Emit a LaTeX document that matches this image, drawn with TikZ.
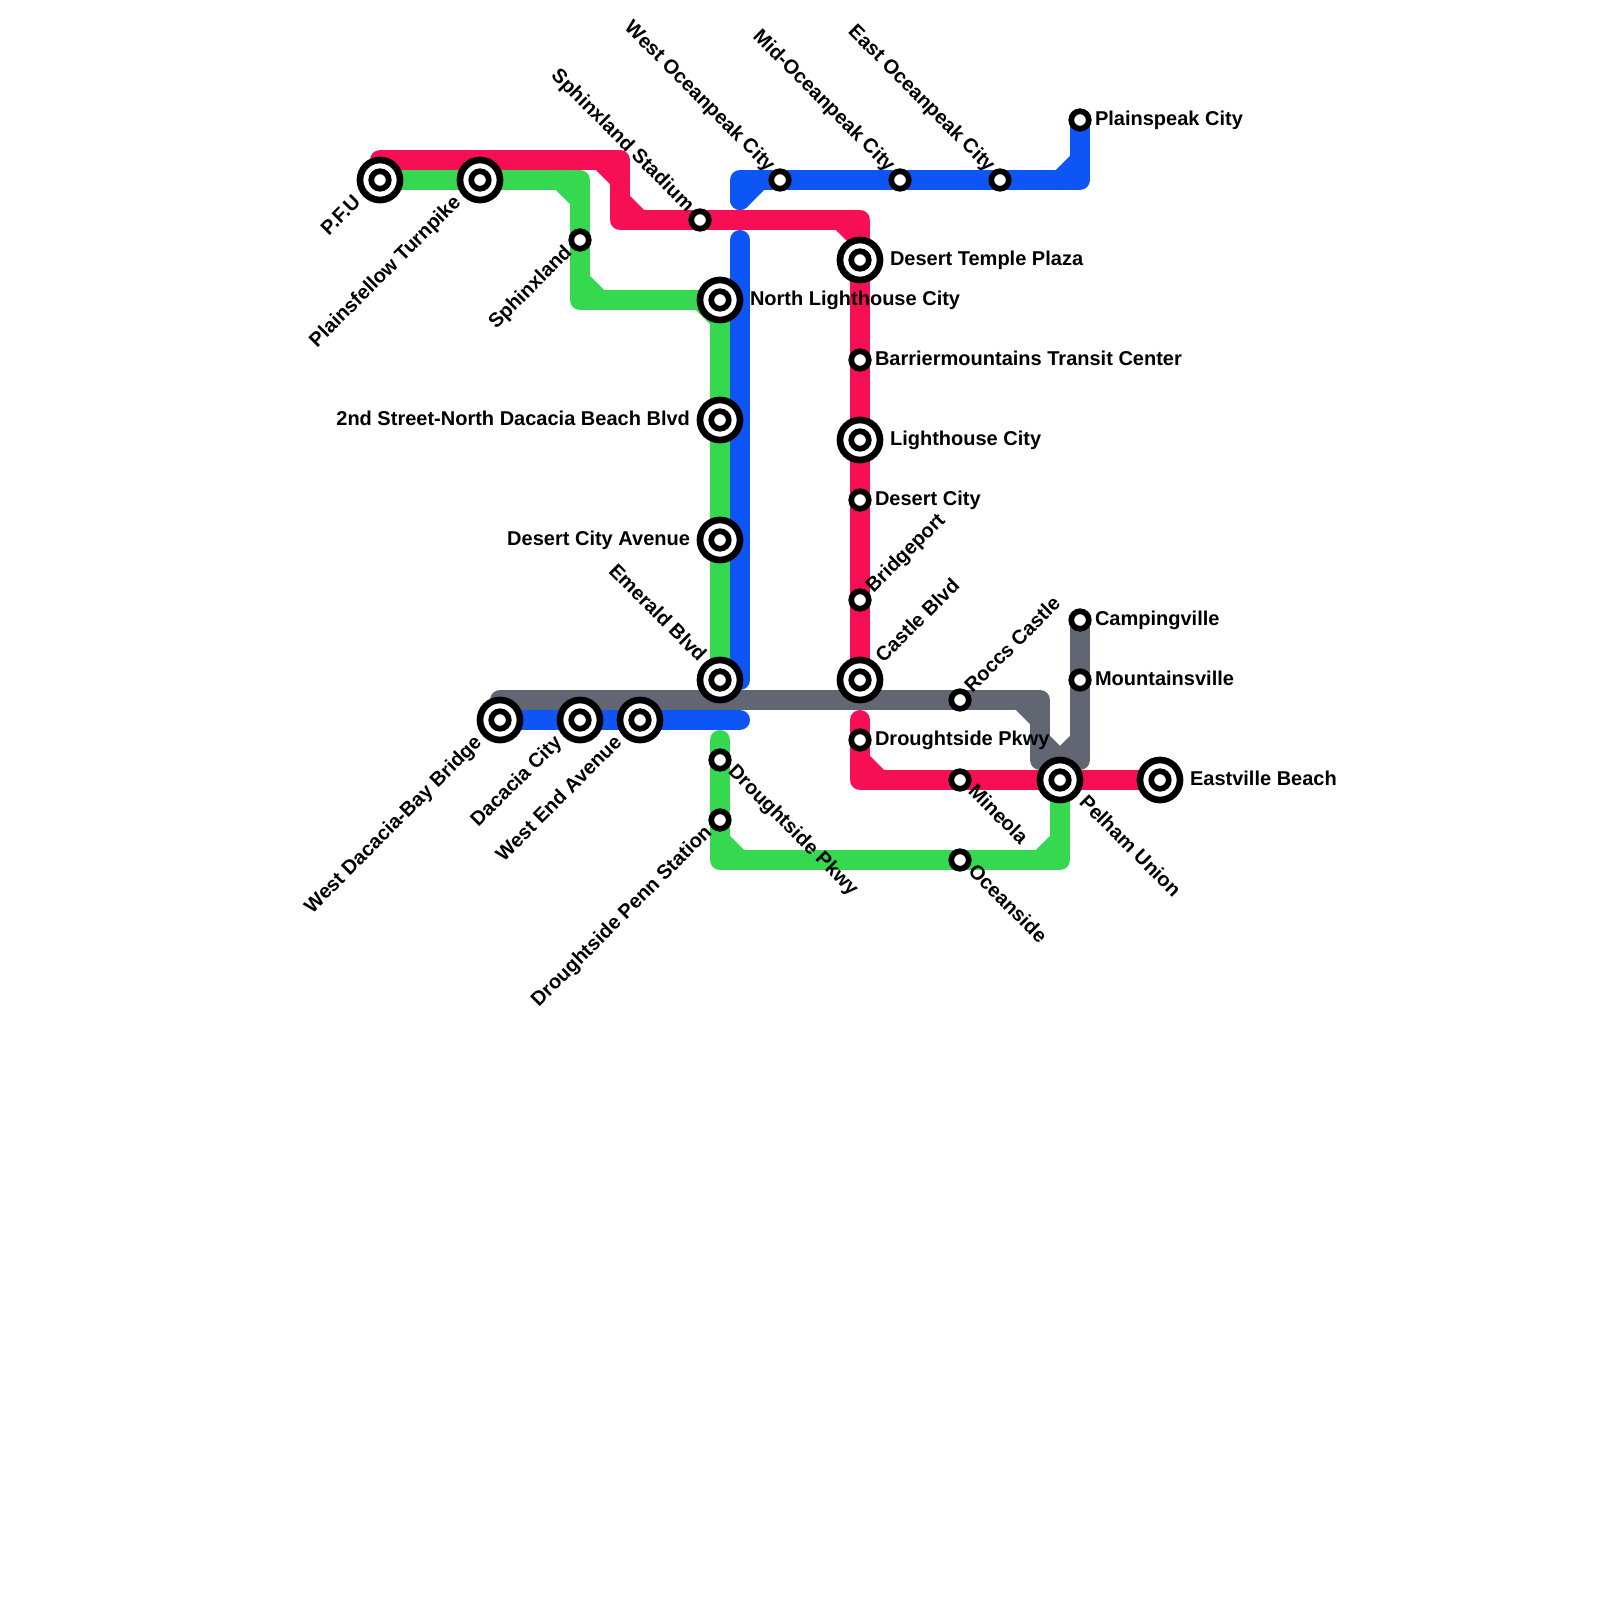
\documentclass[tikz,border=0pt]{standalone}
\usepackage{fontspec}
\setmainfont{Liberation Sans}
\usetikzlibrary{positioning,calc}
\definecolor{linered}{HTML}{F70F55}
\definecolor{linegreen}{HTML}{36D850}
\definecolor{lineblue}{HTML}{0E55F5}
\definecolor{linegrey}{HTML}{626673}

\begin{document}
\begin{tikzpicture}[x=0.01cm,y=-0.01cm,
  every node/.style={font=\bfseries\fontsize{5.69}{6.8}\selectfont,inner sep=0pt,outer sep=0pt,text height=0.145cm,text depth=0.042cm},
  tk/.style={line width=0.2cm,line cap=round,line join=round},
  stn/.style={circle,draw=black,fill=white,line width=0.057cm,minimum size=0.175cm,text height=0pt,text depth=0pt},
  xfer/.style={circle,draw=black,fill=white,line width=0.067cm,minimum size=0.4cm,text height=0pt,text depth=0pt,
    path picture={\draw[line width=0.057cm] (path picture bounding box.center) circle (0.0875cm);}},
  lur/.style={rotate=45,anchor=west},
  lll/.style={rotate=45,anchor=east},
  lul/.style={rotate=-45,anchor=east},
  llr/.style={rotate=-45,anchor=west}]

\useasboundingbox (0,0) rectangle (1600,1600);

\coordinate (rstart) at (380,160);
\coordinate (rb1) at (620,160);
\coordinate (rb2) at (620,220);
\coordinate (rb3) at (860,220);
\coordinate (rend) at (860,680);
\coordinate (r2start) at (860,720);
\coordinate (r2b) at (860,780);
\coordinate (r2end) at (1160,780);
\coordinate (gstart) at (380,180);
\coordinate (gb1) at (580,180);
\coordinate (gb2) at (580,300);
\coordinate (gb3) at (720,300);
\coordinate (gend) at (720,680);
\coordinate (g2start) at (720,740);
\coordinate (g2b1) at (720,860);
\coordinate (g2b2) at (1060,860);
\coordinate (g2end) at (1060,780);
\coordinate (bstart) at (1080,120);
\coordinate (bb1) at (1080,180);
\coordinate (bb2) at (740,180);
\coordinate (bend1) at (740,200);
\coordinate (b2start) at (740,240);
\coordinate (b2b) at (740,680);
\coordinate (b2end) at (720,680);
\coordinate (b3start) at (500,720);
\coordinate (b3end) at (740,720);
\coordinate (ystart) at (500,700);
\coordinate (yb1) at (1040,700);
\coordinate (yb2) at (1040,760);
\coordinate (yb3) at (1080,760);
\coordinate (yend) at (1080,620);

\draw[tk,linered] (rstart) -- (rb1) -- (rb2) -- (rb3) -- (rend);
\draw[tk,linered] ([shift={(-20,0)}]rb1) -- ([shift={(0,20)}]rb1);
\draw[tk,linered] ([shift={(0,-20)}]rb2) -- ([shift={(20,0)}]rb2);
\draw[tk,linered] ([shift={(-20,0)}]rb3) -- ([shift={(0,20)}]rb3);
\draw[tk,linered] (r2start) -- (r2b) -- (r2end);
\draw[tk,linered] ([shift={(0,-20)}]r2b) -- ([shift={(20,0)}]r2b);

\draw[tk,linegreen] (gstart) -- (gb1) -- (gb2) -- (gb3) -- (gend);
\draw[tk,linegreen] ([shift={(-20,0)}]gb1) -- ([shift={(0,20)}]gb1);
\draw[tk,linegreen] ([shift={(0,-20)}]gb2) -- ([shift={(20,0)}]gb2);
\draw[tk,linegreen] ([shift={(-20,0)}]gb3) -- ([shift={(0,20)}]gb3);
\draw[tk,linegreen] (g2start) -- (g2b1) -- (g2b2) -- (g2end);
\draw[tk,linegreen] ([shift={(0,-20)}]g2b1) -- ([shift={(20,0)}]g2b1);
\draw[tk,linegreen] ([shift={(-20,0)}]g2b2) -- ([shift={(0,-20)}]g2b2);

\draw[tk,lineblue] (bstart) -- (bb1) -- (bb2) -- (bend1);
\draw[tk,lineblue] ([shift={(-20,0)}]bb1) -- ([shift={(0,-20)}]bb1);
\draw[tk,lineblue] ([shift={(20,0)}]bb2) -- ([shift={(0,20)}]bb2);
\draw[tk,lineblue] (b2start) -- (b2b) -- (b2end);
\draw[tk,lineblue] (b3start) -- (b3end);

\draw[tk,linegrey] (ystart) -- (yb1) -- (yb2) -- (yb3) -- (yend);
\draw[tk,linegrey] ([shift={(-20,0)}]yb1) -- ([shift={(0,20)}]yb1);
\draw[tk,linegrey] ([shift={(0,-20)}]yb2) -- ([shift={(20,0)}]yb2);
\draw[tk,linegrey] ([shift={(-20,0)}]yb3) -- ([shift={(0,-20)}]yb3);

\node[xfer] (pfu) at (380,180) {};
\node[xfer] (turnpike) at (480,180) {};
\node[stn] (sphinx) at (580,240) {};
\node[stn] (stadium) at (700,220) {};
\node[stn] (westpeak) at (780,180) {};
\node[stn] (midpeak) at (900,180) {};
\node[stn] (eastpeak) at (1000,180) {};
\node[stn] (plainspeak) at (1080,120) {};
\node[xfer] (temple) at (860,260) {};
\node[xfer] (northlh) at (720,300) {};
\node[stn] (barrier) at (860,360) {};
\node[xfer] (second) at (720,420) {};
\node[xfer] (lighthouse) at (860,440) {};
\node[stn] (desert) at (860,500) {};
\node[xfer] (desertave) at (720,540) {};
\node[stn] (bridgeport) at (860,600) {};
\node[xfer] (emerald) at (720,680) {};
\node[xfer] (castle) at (860,680) {};
\node[stn] (roccs) at (960,700) {};
\node[stn] (camping) at (1080,620) {};
\node[stn] (mountains) at (1080,680) {};
\node[stn] (pkwyred) at (860,740) {};
\node[stn] (mineola) at (960,780) {};
\node[xfer] (pelham) at (1060,780) {};
\node[xfer] (eastville) at (1160,780) {};
\node[stn] (oceanside) at (960,860) {};
\node[xfer] (bay) at (500,720) {};
\node[xfer] (dacacia) at (580,720) {};
\node[xfer] (westend) at (640,720) {};
\node[stn] (pkwygreen) at (720,760) {};
\node[stn] (penn) at (720,820) {};

\node[lll] (pfut) at ($(pfu)+(-22,20)$) {P.F.U};
\node[lll] (turnpiket) at ($(turnpike)+(-22,20)$) {Plainsfellow Turnpike};
\node[lll] (sphinxt) at ($(sphinx)+(-11,10)$) {Sphinxland};
\node[lul] (stadiumt) at ($(stadium)+(-10,-11)$) {Sphinxland Stadium};
\node[lul] (westpeakt) at ($(westpeak)+(-9,-11)$) {West Oceanpeak City};
\node[lul] (midpeakt) at ($(midpeak)+(-9,-11)$) {Mid-Oceanpeak City};
\node[lul] (eastpeakt) at ($(eastpeak)+(-9,-11)$) {East Oceanpeak City};
\node[right=0.15cm of plainspeak.center] (plainspeakt) {Plainspeak City};
\node[right=0.3cm of temple.center] (templet) {Desert Temple Plaza};
\node[right=0.3cm of northlh.center] (northlht) {North Lighthouse City};
\node[right=0.15cm of barrier.center] (barriert) {Barriermountains Transit Center};
\node[left=0.3cm of second.center] (secondt) {2nd Street-North Dacacia Beach Blvd};
\node[right=0.3cm of lighthouse.center] (lighthouset) {Lighthouse City};
\node[right=0.15cm of desert.center] (desertt) {Desert City};
\node[left=0.3cm of desertave.center] (desertavet) {Desert City Avenue};
\node[lur] (bridgeportt) at ($(bridgeport)+(10,-10)$) {Bridgeport};
\node[lul] (emeraldt) at ($(emerald)+(-18,-21)$) {Emerald Blvd};
\node[lur] (castlet) at ($(castle)+(20,-20)$) {Castle Blvd};
\node[lur] (rocest) at ($(roccs)+(9,-10)$) {Roccs Castle};
\node[right=0.15cm of camping.center] (campingt) {Campingville};
\node[right=0.15cm of mountains.center] (mountainst) {Mountainsville};
\node[right=0.15cm of pkwyred.center] (pkwyredt) {Droughtside Pkwy};
\node[llr] (mineolat) at ($(mineola)+(11,9)$) {Mineola};
\node[llr] (pelhamt) at ($(pelham)+(22,20)$) {Pelham Union};
\node[right=0.3cm of eastville.center] (eastvillet) {Eastville Beach};
\node[llr] (oceansidet) at ($(oceanside)+(11,9)$) {Oceanside};
\node[lll] (bayt) at ($(bay)+(-21,20)$) {West Dacacia-Bay Bridge};
\node[lll] (dacaciat) at ($(dacacia)+(-21,20)$) {Dacacia City};
\node[lll] (westendt) at ($(westend)+(-21,20)$) {West End Avenue};
\node[llr] (pkwygreent) at ($(pkwygreen)+(11,9)$) {Droughtside Pkwy};
\node[lll] (pennt) at ($(penn)+(-11,10)$) {Droughtside Penn Station};
\end{tikzpicture}
\end{document}
